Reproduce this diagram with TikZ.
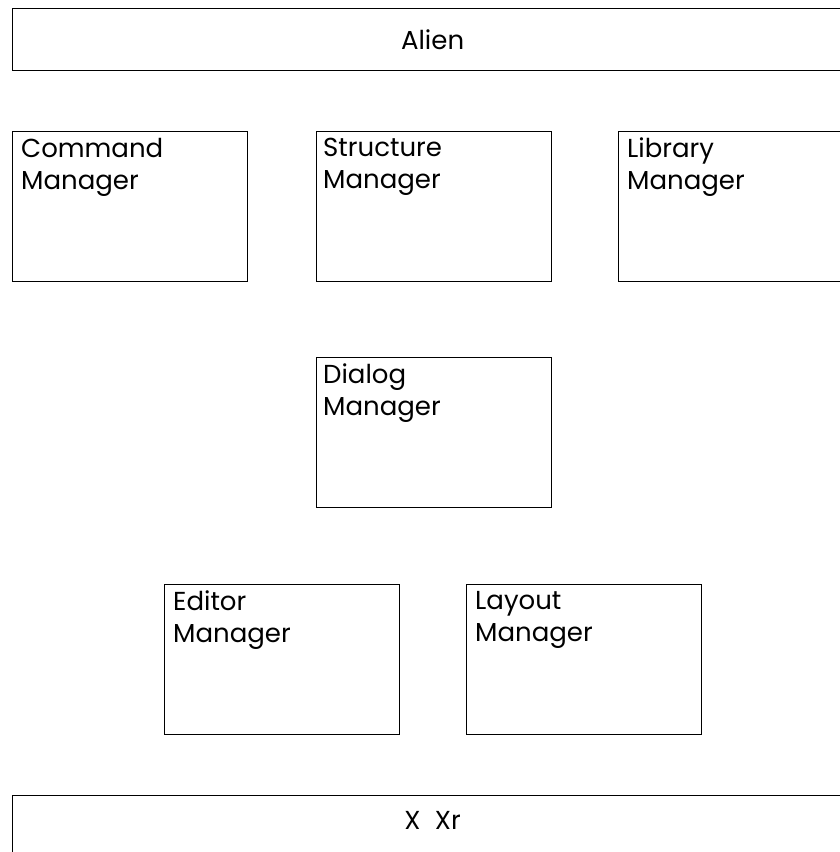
\documentclass[tikz,border=0pt]{standalone}
\usepackage{fontspec}
\setmainfont{Poppins}
\begin{document}
\begin{tikzpicture}[x=1pt,y=-1pt,
  box/.style={draw=black,line width=1.2pt,rectangle,anchor=north west,inner sep=0pt,minimum width=235pt,minimum height=150pt},
  wide/.style={draw=black,line width=1.2pt,rectangle,anchor=north west,inner sep=0pt,minimum width=840pt,minimum height=62pt},
  lbl/.style={anchor=north west,align=left,inner sep=0pt,font=\fontsize{26}{32}\selectfont},
  ctr/.style={inner sep=0pt,font=\fontsize{26}{32}\selectfont}]
\useasboundingbox (0,0) rectangle (840,852);
\clip (0,0) rectangle (840,852);
\node[wide] (alien) at (12,8) {};
\node[ctr] (alient) at (alien.center) {Alien};
\node[box] (cmd) at (12,131) {};
\node[lbl] (cmdt) at ([xshift=9pt,yshift=-7pt]cmd.north west) {Command\\Manager};
\node[box] (str) at (316,131) {};
\node[lbl] (strt) at ([xshift=7pt,yshift=-7pt]str.north west) {Structure\\Manager};
\node[box] (lib) at (618,131) {};
\node[lbl] (libt) at ([xshift=9pt,yshift=-7pt]lib.north west) {Library\\Manager};
\node[box] (dlg) at (316,357) {};
\node[lbl] (dlgt) at ([xshift=7pt,yshift=-7pt]dlg.north west) {Dialog\\Manager};
\node[box] (edt) at (164,584) {};
\node[lbl] (edtt) at ([xshift=9pt,yshift=-7pt]edt.north west) {Editor\\Manager};
\node[box] (lay) at (466,584) {};
\node[lbl] (layt) at ([xshift=9pt,yshift=-7pt]lay.north west) {Layout\\Manager};
\node[wide] (xxr) at (12,795) {};
\node[ctr] (xxrt) at (alien.center |- 0,820) {X\hspace{0.55em}Xr};
\end{tikzpicture}
\end{document}
